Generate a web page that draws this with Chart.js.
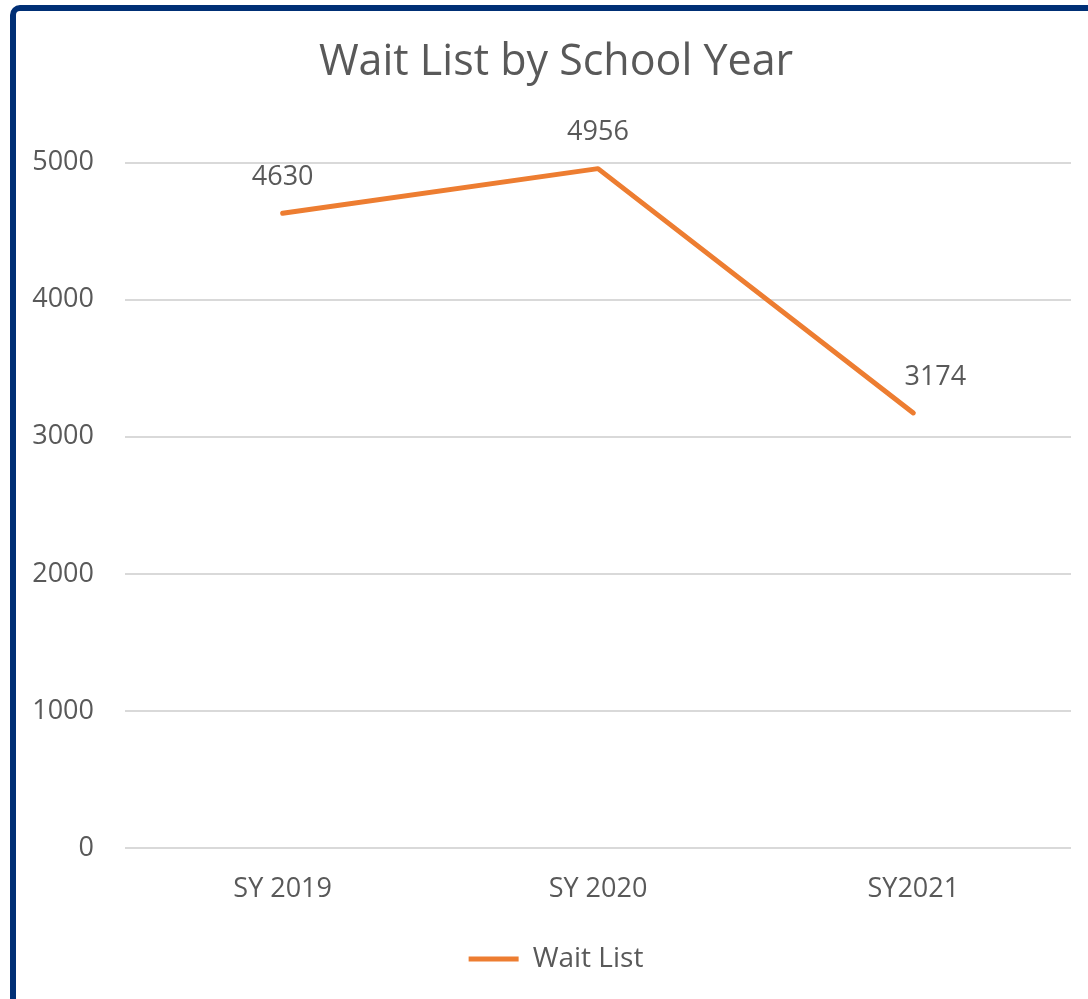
<!DOCTYPE html>
<html>
<head>
<meta charset="utf-8">
<script src="https://cdn.jsdelivr.net/npm/chart.js@4/dist/chart.umd.min.js"></script>
<style>
  html, body { margin: 0; padding: 0; background: #fff; overflow: hidden; }
  #wrap { position: relative; width: 1088px; height: 999px; }
  #frame { position: absolute; left: 10px; top: 5px; width: 1100px; height: 1100px;
           border: 6px solid #002f75; border-radius: 10px; pointer-events: none; }
  canvas { position: absolute; left: 0; top: 0; }
</style>
</head>
<body>
<div id="wrap">
  <canvas id="chart" width="1088" height="999"></canvas>
  <div id="frame"></div>
</div>
<script>
  const years = ['SY 2019', 'SY 2020', 'SY2021'];
  const waitList = [4630, 4956, 3174];
  const yTicks = [0, 1000, 2000, 3000, 4000, 5000];

  const textGrey = '#595959';
  const orange = '#ED7D31';
  const font = 'Open Sans';

  // value labels over the line, like excel's data labels
  const pointLabels = {
    id: 'pointLabels',
    afterDatasetsDraw(chart, args, opts) {
      const ctx = chart.ctx;
      const meta = chart.getDatasetMeta(0);
      ctx.save();
      ctx.font = `27px "${font}"`;
      ctx.fillStyle = textGrey;
      ctx.textAlign = 'center';
      ctx.textBaseline = 'middle';
      meta.data.forEach((pt, i) => {
        const dx = (opts.dx && opts.dx[i]) || 0;
        ctx.fillText(String(waitList[i]), pt.x + dx, pt.y - 36);
      });
      ctx.restore();
    }
  };

  // the original chart box runs past the right edge, so title and legend sit a bit right of centre
  const shiftBlocks = {
    id: 'shiftBlocks',
    afterLayout(chart, args, opts) {
      if (chart.titleBlock) chart.titleBlock.left += opts.dx;
      if (chart.legend) chart.legend.left += opts.dx;
    }
  };

  new Chart(document.getElementById('chart'), {
    type: 'line',
    data: {
      labels: years,
      datasets: [{
        label: 'Wait List',
        data: waitList,
        borderColor: orange,
        backgroundColor: orange,
        borderWidth: 5,
        borderCapStyle: 'round',
        borderJoinStyle: 'round',
        pointRadius: 0,
        tension: 0,
        fill: false
      }]
    },
    options: {
      responsive: false,
      animation: false,
      layout: { padding: { left: 0, right: 17, top: 0, bottom: 16 } },
      scales: {
        x: {
          offset: true,
          grid: { display: false, drawTicks: false },
          border: { display: false },
          ticks: { color: textGrey, font: { family: font, size: 27 }, padding: 25 },
          afterFit(scale) { scale.height = 77; }
        },
        y: {
          min: 0, max: 5000,
          afterBuildTicks(scale) { scale.ticks = yTicks.map(v => ({ value: v })); },
          grid: { color: '#d9d9d9', lineWidth: 2, drawTicks: false },
          border: { display: false },
          ticks: {
            color: textGrey, font: { family: font, size: 27 }, padding: 31,
            callback: v => String(v)
          },
          afterFit(scale) { scale.width = 125; }
        }
      },
      plugins: {
        title: {
          display: true,
          text: 'Wait List by School Year',
          color: textGrey,
          font: { family: font, size: 43, weight: 'normal' },
          padding: { top: 37, bottom: 74 }
        },
        legend: {
          position: 'bottom',
          labels: {
            color: textGrey,
            font: { family: font, size: 28 },
            usePointStyle: true,
            pointStyle: 'line',
            pointStyleWidth: 50,
            padding: 20
          }
        },
        tooltip: { enabled: false },
        pointLabels: { dx: [0, 0, 22] },
        shiftBlocks: { dx: 41 }
      }
    },
    plugins: [pointLabels, shiftBlocks]
  });
</script>
</body>
</html>
